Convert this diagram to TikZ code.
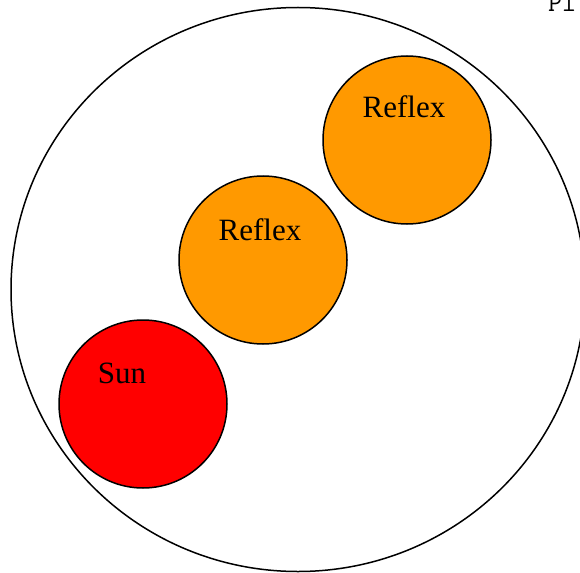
\documentclass[tikz,border=0pt]{standalone}
\usepackage{fontspec}
\setmainfont{Liberation Serif}
\definecolor{reflexorange}{HTML}{FF9900}
\definecolor{sunred}{HTML}{FF0000}
\begin{document}
\begin{tikzpicture}[x=1pt,y=-1pt,
  body/.style={draw=black,line width=1.5pt,circle,minimum size=168pt,inner sep=0pt},
  lbl/.style={anchor=base,inner sep=0pt,font=\fontsize{31}{37}\selectfont}]
\useasboundingbox (0,0) rectangle (580,572);
\fill[white] (0,0) rectangle (580,572);
\draw[line width=1.5pt] (298,289.5) ellipse [x radius=287, y radius=282];
\node[body,fill=sunred] (sun) at (143,404) {};
\node[body,fill=reflexorange] (r1) at (263,260) {};
\node[body,fill=reflexorange] (r2) at (407,140) {};
\node[lbl] (sunl) at (122,383) {Sun};
\node[lbl] (r1l) at (260,240) {Reflex};
\node[lbl] (r2l) at (404,118) {Reflex};
\node[anchor=base west,inner sep=0pt,font=\ttfamily\fontsize{27}{32}\selectfont] (pl) at (548,12) {Pl};
\end{tikzpicture}
\end{document}
